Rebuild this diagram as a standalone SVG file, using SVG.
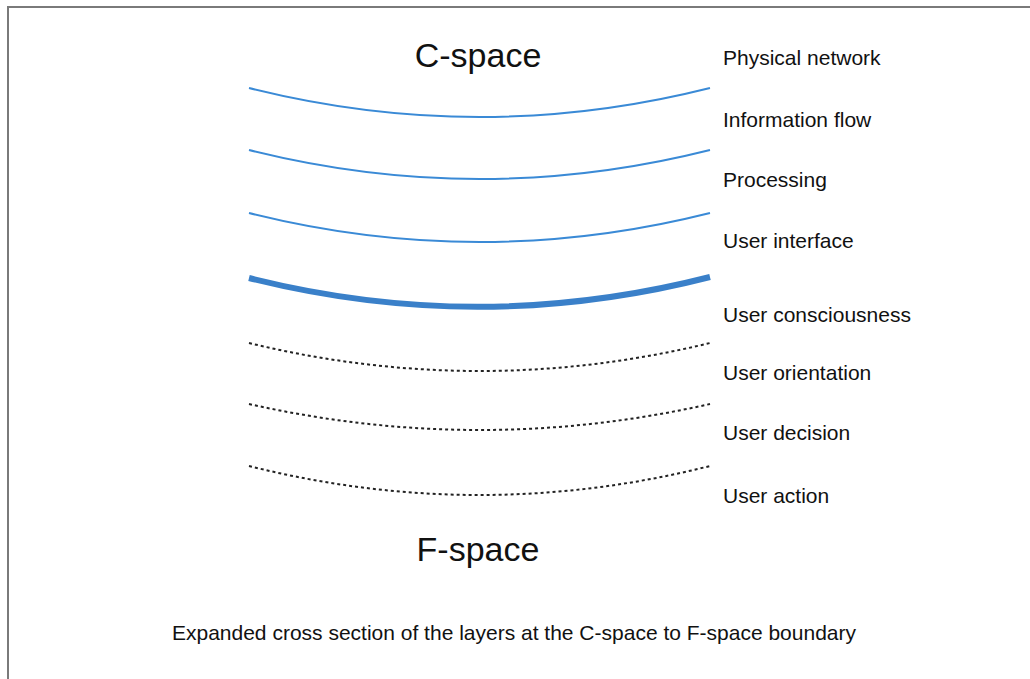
<svg xmlns="http://www.w3.org/2000/svg" width="1030" height="679" viewBox="0 0 1030 679">
<style>
.t{font-family:"Liberation Sans",Arial,sans-serif;fill:#111}
.lbl{font-size:21px}
.big{font-size:34px;text-anchor:middle}
.cap{font-size:21px;text-anchor:middle}
.thin{fill:none;stroke:#3a8ad6;stroke-width:2}
.thick{fill:none;stroke:#3a80c9;stroke-width:6}
.dash{fill:none;stroke:#222;stroke-width:2;stroke-dasharray:3 3}
</style>
<rect width="1030" height="679" fill="#fff"/>
<path d="M8,679 V7 H1030" fill="none" stroke="#7a7a7a" stroke-width="2"/>
<g id="connectors">
<path class="thin" d="M249,88 Q479.5,146 710,88"/>
<path class="thin" d="M249,150 Q479.5,208 710,150"/>
<path class="thin" d="M249,213 Q479.5,271 710,213"/>
<path class="thick" d="M249,278 Q479.5,336 710,277"/>
<path class="dash" d="M249,343 Q479.5,399 710,343"/>
<path class="dash" d="M249,404 Q479.5,456 710,404"/>
<path class="dash" d="M249,466 Q479.5,524 710,466"/>
</g>
<g id="c-space"><text class="t big" x="478" y="67">C-space</text></g>
<g id="f-space"><text class="t big" x="478" y="561">F-space</text></g>
<g id="labels">
<text class="t lbl" x="723" y="65">Physical network</text>
<text class="t lbl" x="723" y="127">Information flow</text>
<text class="t lbl" x="723" y="187">Processing</text>
<text class="t lbl" x="723" y="248">User interface</text>
<text class="t lbl" x="723" y="322">User consciousness</text>
<text class="t lbl" x="723" y="380">User orientation</text>
<text class="t lbl" x="723" y="440">User decision</text>
<text class="t lbl" x="723" y="503">User action</text>
</g>
<g id="caption"><text class="t cap" x="514" y="640">Expanded cross section of the layers at the C-space to F-space boundary</text></g>
</svg>
